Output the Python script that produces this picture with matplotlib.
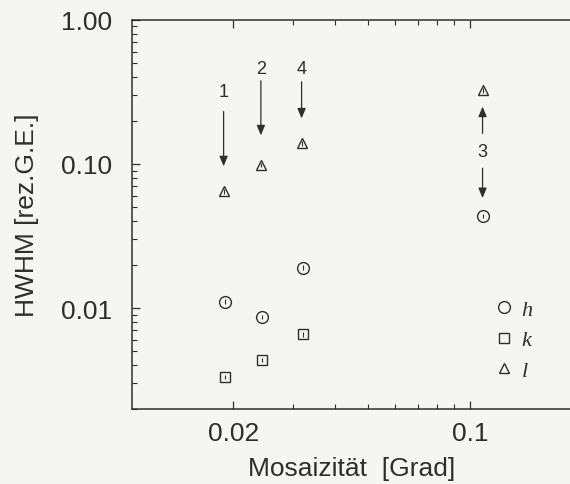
import numpy as np
import matplotlib
matplotlib.use('Agg')
import matplotlib.pyplot as plt

# HWHM vs. mosaicity for the h, k and l scans
h_mos = [0.0189, 0.0243, 0.0320, 0.109]
h_hwhm = [0.0111, 0.0087, 0.0191, 0.0436]
h_err = [0.0004, 0.0003, 0.0007, 0.0015]

k_mos = [0.0189, 0.0243, 0.0320]
k_hwhm = [0.00333, 0.00438, 0.00656]
k_err = [0.00012, 0.00015, 0.00023]

l_mos = [0.0187, 0.0241, 0.0318, 0.109]
l_hwhm = [0.0645, 0.0985, 0.139, 0.324]
l_err = [0.0022, 0.0034, 0.0048, 0.011]

# numbered arrows: (label, x, label y, arrow start y, arrow end y)
arrow_num = ['1', '2', '4']
arrow_x = [0.0187, 0.0241, 0.0318]
arrow_label_y = [0.317, 0.457, 0.457]
arrow_from = [0.231, 0.378, 0.372]
arrow_to = [0.0964, 0.158, 0.207]

ink = '#2e2e2e'
plt.rcParams['font.family'] = ['Liberation Sans', 'DejaVu Sans']

fig = plt.figure(figsize=(5.7, 4.85), dpi=100)
fig.patch.set_facecolor('#f5f5f2')
ax = fig.add_axes([0.231, 0.155, 0.772, 0.802])
ax.set_facecolor('#f5f5f2')

ax.errorbar(h_mos, h_hwhm, yerr=h_err, fmt='none', ecolor=ink, elinewidth=0.8, capsize=0)
ax.errorbar(k_mos, k_hwhm, yerr=k_err, fmt='none', ecolor=ink, elinewidth=0.8, capsize=0)
ax.errorbar(l_mos, l_hwhm, yerr=l_err, fmt='none', ecolor=ink, elinewidth=0.8, capsize=0)
ax.plot(h_mos, h_hwhm, 'o', ms=8.5, mfc='none', mec=ink, mew=1.0, label='h')
ax.plot(k_mos, k_hwhm, 's', ms=7, mfc='none', mec=ink, mew=1.0, label='k')
ax.plot(l_mos, l_hwhm, '^', ms=7.5, mfc='none', mec=ink, mew=1.0, label='l')

ax.set_xscale('log')
ax.set_yscale('log')
ax.set_xlim(0.01, 0.2)
ax.set_ylim(0.002, 1.0)

arrowprops = dict(arrowstyle='-|>,head_length=0.6,head_width=0.25', color=ink, lw=0.9,
                  shrinkA=0, shrinkB=0)
for num, x, ly, y0, y1 in zip(arrow_num, arrow_x, arrow_label_y, arrow_from, arrow_to):
    ax.annotate('', xy=(x, y1), xytext=(x, y0), arrowprops=arrowprops)
    ax.text(x, ly, num, ha='center', va='center', fontsize=13, color=ink)

# arrow pair for scan 3
ax.annotate('', xy=(0.109, 0.25), xytext=(0.109, 0.163), arrowprops=arrowprops)
ax.annotate('', xy=(0.109, 0.058), xytext=(0.109, 0.0934), arrowprops=arrowprops)
ax.text(0.109, 0.122, '3', ha='center', va='center', fontsize=13, color=ink)

ax.set_yticks([0.01, 0.1, 1.0])
ax.set_yticklabels(['0.01', '0.10', '1.00'])
ax.set_xticks([0.02, 0.1])
ax.set_xticklabels(['0.02', '0.1'])
ax.tick_params(which='both', direction='in', top=True, right=False, colors=ink)
ax.tick_params(axis='y', which='major', length=6, width=0.9, pad=14, labelsize=19)
ax.tick_params(axis='x', which='major', length=6, width=0.9, pad=9, labelsize=19)
ax.tick_params(which='minor', length=3.5, width=0.8)
ax.tick_params(axis='y', which='minor', labelleft=False)
ax.tick_params(axis='x', which='minor', labelbottom=False)
for s in ['left', 'bottom', 'top']:
    ax.spines[s].set_color(ink)
    ax.spines[s].set_linewidth(1.1)
ax.spines['right'].set_visible(False)

ax.set_xlabel('Mosaizität  [Grad]', fontsize=19, color=ink, labelpad=8)
ax.set_ylabel('HWHM [rez.G.E.]', fontsize=19, color=ink, labelpad=16)

leg = ax.legend(loc='upper left', bbox_to_anchor=(0.80, 0.31), frameon=False,
                handlelength=0.8, handletextpad=0.4, labelspacing=0.45, borderpad=0,
                prop={'family': 'Liberation Serif', 'style': 'italic', 'size': 16})
for t in leg.get_texts():
    t.set_color(ink)

fig.savefig('out.png', dpi=100, facecolor=fig.get_facecolor())
